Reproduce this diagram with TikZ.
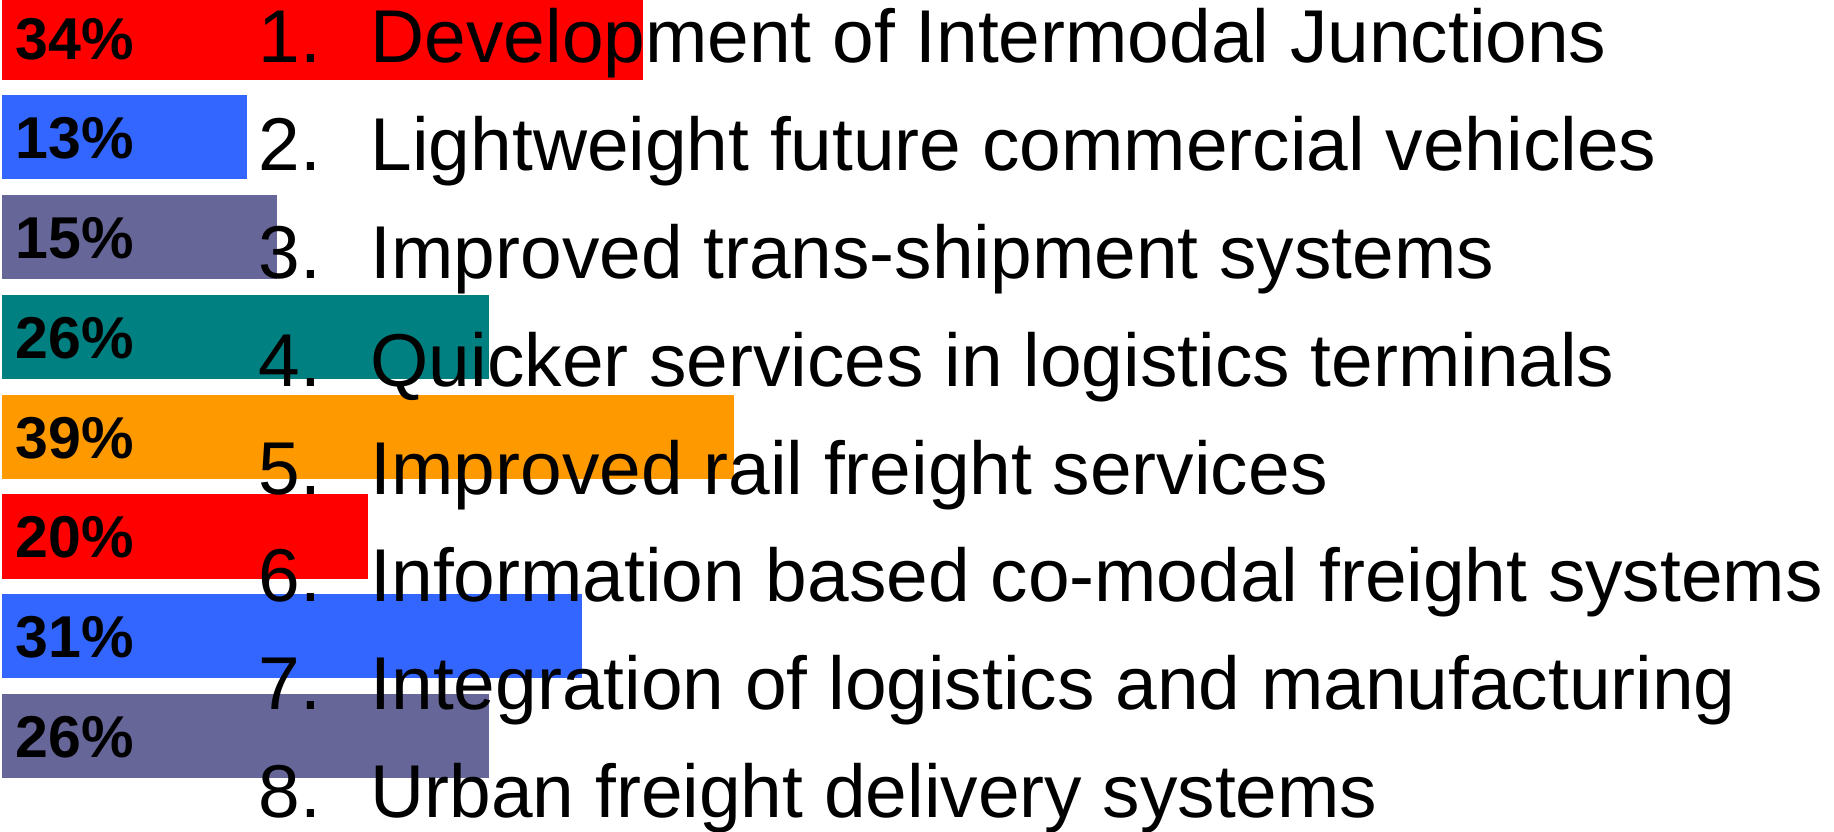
\documentclass[tikz,border=0pt]{standalone}
\usepackage{fontspec}
\setmainfont{Liberation Sans}
\usepackage{tikz}
\definecolor{barred}{RGB}{255,0,0}
\definecolor{barblue}{RGB}{51,102,255}
\definecolor{barslate}{RGB}{102,102,153}
\definecolor{barteal}{RGB}{0,128,128}
\definecolor{barorange}{RGB}{255,153,0}
\tikzset{
    share/.style={anchor=west,inner sep=0pt,font=\fontsize{16.8}{20}\selectfont\bfseries},
    item/.style={anchor=base west,inner sep=0pt,font=\fontsize{21.3}{25}\selectfont}
}

\begin{document}
\begin{tikzpicture}
    \useasboundingbox (0,0) rectangle (18.34,8.32);
    \clip (0,0) rectangle (18.34,8.32);

    % Bars
    \fill[barred]    (0.02,8.37) rectangle (6.43,7.52);
    \fill[barblue]   (0.02,7.37) rectangle (2.47,6.53);
    \fill[barslate]  (0.02,6.37) rectangle (2.77,5.53);
    \fill[barteal]   (0.02,5.37) rectangle (4.89,4.53);
    \fill[barorange] (0.02,4.37) rectangle (7.34,3.53);
    \fill[barred]    (0.02,3.38) rectangle (3.68,2.53);
    \fill[barblue]   (0.02,2.38) rectangle (5.82,1.54);
    \fill[barslate]  (0.02,1.38) rectangle (4.89,0.54);

    % Shares
    \node[share] (s1) at (0.15,7.93) {34\%};
    \node[share] (s2) at (0.15,6.94) {13\%};
    \node[share] (s3) at (0.15,5.94) {15\%};
    \node[share] (s4) at (0.15,4.94) {26\%};
    \node[share] (s5) at (0.15,3.94) {39\%};
    \node[share] (s6) at (0.15,2.95) {20\%};
    \node[share] (s7) at (0.15,1.95) {31\%};
    \node[share] (s8) at (0.15,0.95) {26\%};

    % Numbers
    \node[item] (n1) at (2.58,7.69) {1.};
    \node[item] (n2) at (2.58,6.61) {2.};
    \node[item] (n3) at (2.58,5.53) {3.};
    \node[item] (n4) at (2.58,4.45) {4.};
    \node[item] (n5) at (2.58,3.37) {5.};
    \node[item] (n6) at (2.58,2.30) {6.};
    \node[item] (n7) at (2.58,1.22) {7.};
    \node[item] (n8) at (2.58,0.14) {8.};

    % Items
    \node[item] (t1) at (3.70,7.69) {Development of Intermodal Junctions};
    \node[item] (t2) at (3.70,6.61) {Lightweight future commercial vehicles};
    \node[item] (t3) at (3.70,5.53) {Improved trans-shipment systems};
    \node[item] (t4) at (3.70,4.45) {Quicker services in logistics terminals};
    \node[item] (t5) at (3.70,3.37) {Improved rail freight services};
    \node[item] (t6) at (3.70,2.30) {Information based co-modal freight systems};
    \node[item] (t7) at (3.70,1.22) {Integration of logistics and manufacturing};
    \node[item] (t8) at (3.70,0.14) {Urban freight delivery systems};
\end{tikzpicture}
\end{document}
